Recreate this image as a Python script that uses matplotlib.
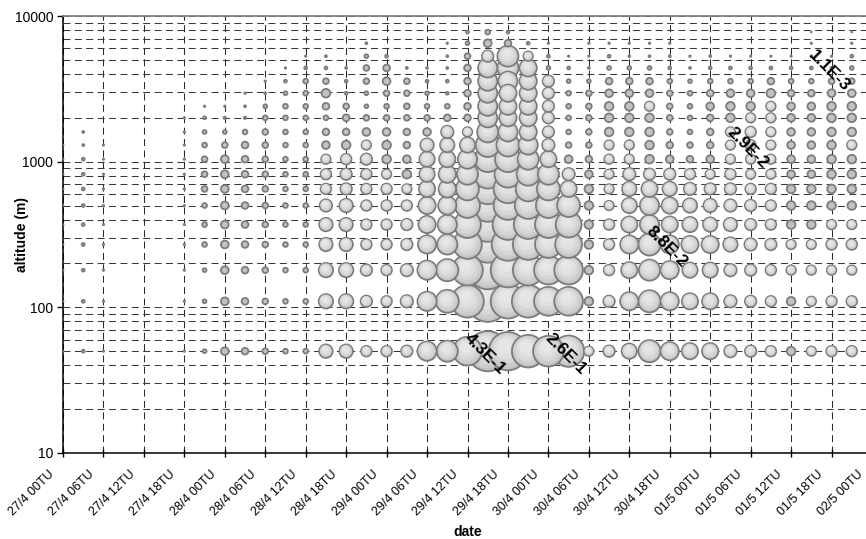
import matplotlib
matplotlib.use("Agg")
import matplotlib.pyplot as plt
from matplotlib.ticker import FixedLocator, NullFormatter
from matplotlib.transforms import ScaledTranslation, blended_transform_factory
import numpy as np

plt.rcParams['font.family'] = ['Liberation Sans', 'DejaVu Sans']
plt.rcParams['lines.scale_dashes'] = False

# ---------------- data ----------------
# altitude levels (m)
altitudes = [50, 110, 180, 270, 370, 500, 650, 820, 1040, 1300, 1600,
             2000, 2400, 2950, 3570, 4400, 5300, 6500, 7750]

# hours since 27/4 00TU for each column of bubbles
hours = [0, 3, 6, 18, 21, 24, 27, 30, 33, 36, 39, 42, 45, 48, 51, 54, 57,
         60, 63, 66, 69, 72, 75, 78, 81, 84, 87, 90, 93, 96, 99, 102, 105,
         108, 111, 114, 117]

# concentrations per column, from lowest to highest altitude level
c_2704_00 = [0.00024]*10 + [0]*9
c_2704_03 = [0.0022]*9 + [0.001, 0.001] + [0]*8
c_2704_06 = [0.0005]*10 + [0]*9
c_2704_18 = [0.0005]*12 + [0]*7
c_2704_21 = [0.0039, 0.0039, 0.0039, 0.0061, 0.0061, 0.0061, 0.0088, 0.0088, 0.0088, 0.0061, 0.0039, 0.0022, 0.00055, 0, 0, 0, 0, 0, 0]
c_2804_00 = [0.016, 0.016, 0.016, 0.016, 0.016, 0.016, 0.016, 0.016, 0.016, 0.0088, 0.0039, 0.0015, 0.00055, 0, 0, 0, 0, 0, 0]
c_2804_03 = [0.012, 0.012, 0.012, 0.012, 0.012, 0.012, 0.012, 0.012, 0.012, 0.012, 0.0061, 0.0015, 0.001, 0.00055, 0, 0, 0, 0, 0]
c_2804_06 = [0.0088, 0.0088, 0.0088, 0.0088, 0.0088, 0.0088, 0.0088, 0.0088, 0.0088, 0.0088, 0.0088, 0.0061, 0.0039, 0.001, 0.00055, 0, 0, 0, 0]
c_2804_09 = [0.0061, 0.0061, 0.0061, 0.0061, 0.0061, 0.0061, 0.0061, 0.0061, 0.0061, 0.0061, 0.0061, 0.0061, 0.0061, 0.0039, 0.0022, 0.00055, 0, 0, 0]
c_2804_12 = [0.0061, 0.0061, 0.0061, 0.0061, 0.0061, 0.0061, 0.0061, 0.0061, 0.0061, 0.0061, 0.0061, 0.0061, 0.0061, 0.0061, 0.0061, 0.0022, 0.00055, 0, 0]
c_2804_15 = [0.048, 0.055, 0.055, 0.048, 0.048, 0.041, 0.030, 0.030, 0.024, 0.016, 0.012, 0.0061, 0.012, 0.020, 0.0088, 0.0022, 0.001, 0, 0]
c_2804_18 = [0.048, 0.055, 0.055, 0.048, 0.048, 0.048, 0.035, 0.035, 0.030, 0.020, 0.012, 0.012, 0.0088, 0.0022, 0.0022, 0.001, 0, 0, 0]
c_2804_21 = [0.030, 0.035, 0.035, 0.030, 0.030, 0.030, 0.030, 0.030, 0.035, 0.024, 0.016, 0.0088, 0.0039, 0.0039, 0.0088, 0.0088, 0.0039, 0.001, 0]
c_2904_00 = [0.030, 0.030, 0.030, 0.030, 0.030, 0.030, 0.030, 0.024, 0.020, 0.020, 0.016, 0.0088, 0.0061, 0.0088, 0.016, 0.012, 0.0022, 0, 0]
c_2904_03 = [0.035, 0.041, 0.041, 0.035, 0.035, 0.030, 0.024, 0.020, 0.016, 0.012, 0.012, 0.0088, 0.0088, 0.0088, 0.0088, 0.001, 0, 0, 0]
c_2904_06 = [0.098, 0.098, 0.098, 0.088, 0.079, 0.079, 0.070, 0.062, 0.062, 0.048, 0.016, 0.0088, 0.0061, 0.0039, 0.0022, 0.001, 0, 0, 0]
c_2904_09 = [0.118, 0.140, 0.130, 0.108, 0.098, 0.088, 0.079, 0.079, 0.070, 0.055, 0.041, 0.012, 0.0061, 0.0022, 0.0022, 0.001, 0.001, 0.00055, 0]
c_2904_12 = [0.219, 0.282, 0.250, 0.219, 0.191, 0.165, 0.140, 0.118, 0.098, 0.062, 0.024, 0.012, 0.012, 0.012, 0.012, 0.012, 0.0088, 0.0039, 0.0022]
c_2904_15 = [0.43, 0.45, 0.39, 0.352, 0.316, 0.282, 0.250, 0.219, 0.178, 0.152, 0.118, 0.098, 0.098, 0.098, 0.098, 0.098, 0.035, 0.016, 0.0061]
c_2904_18 = [0.39, 0.316, 0.316, 0.282, 0.250, 0.219, 0.219, 0.191, 0.178, 0.140, 0.098, 0.079, 0.079, 0.079, 0.098, 0.118, 0.118, 0.012, 0.0022]
c_2904_21 = [0.282, 0.282, 0.250, 0.250, 0.219, 0.191, 0.165, 0.140, 0.118, 0.098, 0.079, 0.079, 0.079, 0.079, 0.079, 0.079, 0.024, 0.0022, 0]
c_3004_00 = [0.250, 0.219, 0.219, 0.191, 0.191, 0.165, 0.140, 0.118, 0.070, 0.041, 0.035, 0.035, 0.035, 0.035, 0.035, 0.0039, 0.0022, 0.00055, 0]
c_3004_03 = [0.26, 0.219, 0.219, 0.191, 0.178, 0.140, 0.070, 0.041, 0.016, 0.0088, 0.0061, 0.0061, 0.0061, 0.0061, 0.0039, 0.0022, 0.00055, 0, 0]
c_3004_06 = [0.024, 0.020, 0.020, 0.020, 0.020, 0.020, 0.020, 0.016, 0.012, 0.0088, 0.0088, 0.0088, 0.0088, 0.0088, 0.0039, 0.001, 0.00055, 0.00055, 0]
c_3004_09 = [0.035, 0.035, 0.030, 0.030, 0.030, 0.024, 0.024, 0.024, 0.024, 0.024, 0.020, 0.020, 0.020, 0.016, 0.012, 0.0039, 0.0022, 0.00055, 0]
c_3004_12 = [0.062, 0.088, 0.070, 0.088, 0.070, 0.062, 0.055, 0.041, 0.024, 0.024, 0.020, 0.020, 0.020, 0.016, 0.012, 0.0039, 0.001, 0.00055, 0]
c_3004_15 = [0.130, 0.130, 0.118, 0.130, 0.098, 0.098, 0.070, 0.035, 0.020, 0.020, 0.020, 0.020, 0.024, 0.016, 0.012, 0.0039, 0.001, 0.00055, 0]
c_3004_18 = [0.088, 0.088, 0.088, 0.088, 0.070, 0.070, 0.055, 0.035, 0.016, 0.012, 0.0088, 0.0088, 0.0088, 0.0088, 0.0061, 0.0022, 0.001, 0.00055, 0]
c_3004_21 = [0.070, 0.070, 0.062, 0.079, 0.062, 0.055, 0.041, 0.030, 0.012, 0.0088, 0.0061, 0.0061, 0.0061, 0.0061, 0.0039, 0.001, 0.00055, 0, 0]
c_0105_00 = [0.070, 0.070, 0.062, 0.079, 0.055, 0.048, 0.035, 0.024, 0.016, 0.012, 0.012, 0.012, 0.016, 0.012, 0.0061, 0.0022, 0.001, 0, 0]
c_0105_03 = [0.041, 0.041, 0.041, 0.055, 0.048, 0.041, 0.035, 0.030, 0.024, 0.024, 0.024, 0.020, 0.020, 0.016, 0.0061, 0.0022, 0.00055, 0, 0]
c_0105_06 = [0.035, 0.035, 0.035, 0.041, 0.035, 0.035, 0.030, 0.024, 0.024, 0.029, 0.030, 0.024, 0.020, 0.016, 0.0061, 0.0022, 0.00055, 0, 0]
c_0105_09 = [0.030, 0.030, 0.030, 0.035, 0.030, 0.030, 0.030, 0.024, 0.024, 0.024, 0.024, 0.024, 0.024, 0.020, 0.012, 0.0022, 0.00055, 0, 0]
c_0105_12 = [0.020, 0.020, 0.024, 0.024, 0.020, 0.020, 0.020, 0.016, 0.016, 0.016, 0.016, 0.016, 0.016, 0.012, 0.0061, 0.0022, 0.00055, 0, 0]
c_0105_15 = [0.024, 0.024, 0.024, 0.024, 0.020, 0.020, 0.020, 0.016, 0.016, 0.016, 0.016, 0.016, 0.016, 0.012, 0.0061, 0.0022, 0.001, 0.00055, 0.00024]
c_0105_18 = [0.030, 0.030, 0.024, 0.030, 0.024, 0.020, 0.020, 0.020, 0.020, 0.020, 0.020, 0.020, 0.020, 0.016, 0.0088, 0.0011, 0.00055, 0, 0]
c_0105_21 = [0.030, 0.030, 0.024, 0.030, 0.024, 0.020, 0.020, 0.020, 0.020, 0.024, 0.020, 0.020, 0.020, 0.016, 0.0088, 0.0039, 0.0022, 0.00055, 0.00024]

columns = [c_2704_00, c_2704_03, c_2704_06, c_2704_18, c_2704_21,
           c_2804_00, c_2804_03, c_2804_06, c_2804_09, c_2804_12,
           c_2804_15, c_2804_18, c_2804_21, c_2904_00, c_2904_03,
           c_2904_06, c_2904_09, c_2904_12, c_2904_15, c_2904_18,
           c_2904_21, c_3004_00, c_3004_03, c_3004_06, c_3004_09,
           c_3004_12, c_3004_15, c_3004_18, c_3004_21, c_0105_00,
           c_0105_03, c_0105_06, c_0105_09, c_0105_12, c_0105_15,
           c_0105_18, c_0105_21]

# x tick positions (hours) and labels
tick_hours = [0, 6, 12, 18, 24, 30, 36, 42, 48, 54, 60, 66, 72, 78, 84,
              90, 96, 102, 108, 114, 120]
tick_labels = ["27/4 00TU", "27/4 06TU", "27/4 12TU", "27/4 18TU",
               "28/4 00TU", "28/4 06TU", "28/4 12TU", "28/4 18TU",
               "29/4 00TU", "29/4 06TU", "29/4 12TU", "29/4 18TU",
               "30/4 00TU", "30/4 06TU", "30/4 12TU", "30/4 18TU",
               "01/5 00TU", "01/5 06TU", "01/5 12TU", "01/5 18TU",
               "02/5 00TU"]

# data labels on selected bubbles
label_texts = ["4.3E-1", "2.6E-1", "8.8E-2", "2.9E-2", "1.1E-3"]
label_hours = [63, 75, 90, 102, 114]
label_alts = [50, 50, 270, 1300, 4400]

# ---------------- figure ----------------
W, H = 866, 539
fig = plt.figure(figsize=(W / 100, H / 100), dpi=100)
left_px, right_px, top_px, bot_px = 63, 872, 16, 453
ax = fig.add_axes([left_px / W, 1 - bot_px / H,
                   (right_px - left_px) / W, (bot_px - top_px) / H])
ax.set_yscale('log')
ax.set_ylim(10, 10000)
ax.set_xlim(0, 120)

# grid and ticks
minor_y = [m * 10 ** e for e in (1, 2, 3) for m in range(2, 10)]
ax.yaxis.set_major_locator(FixedLocator([10, 100, 1000, 10000]))
ax.yaxis.set_minor_locator(FixedLocator(minor_y))
ax.yaxis.set_minor_formatter(NullFormatter())
ax.set_yticklabels(["10", "100", "1000", "10000"])
ax.set_xticks(tick_hours)
ax.set_xticklabels([])

# rotated date labels, their right end just below-left of each tick
lab_trans = blended_transform_factory(ax.transData, ax.transAxes) + \
    ScaledTranslation(-0.085, -0.215, fig.dpi_scale_trans)
for h, t in zip(tick_hours, tick_labels):
    ax.text(h, 0, t, transform=lab_trans, rotation=45, ha='right',
            va='baseline', rotation_mode='anchor', fontsize=9,
            clip_on=False)

ax.grid(True, which='both', axis='y', color='#3a3a3a', lw=0.75,
        dashes=(5, 3.2))
ax.grid(True, which='major', axis='x', color='#2a2a2a', lw=0.75,
        dashes=(5, 3.2))
ax.set_axisbelow(True)
ax.tick_params(axis='y', which='major', direction='out', length=4, width=1,
               labelsize=10, pad=3)
ax.tick_params(axis='y', which='minor', length=0)
ax.tick_params(axis='x', which='major', direction='inout', length=6, width=1)

for side in ('left', 'bottom'):
    ax.spines[side].set_color('black')
    ax.spines[side].set_linewidth(1.1)
ax.spines['top'].set_color('#808080')
ax.spines['top'].set_linewidth(1.3)
ax.spines['right'].set_visible(False)

# bubbles: drawn largest first, each with a few shading layers
K = 1950.0
bubbles = []
for h, col in zip(hours, columns):
    for a, v in zip(altitudes, col):
        if v > 0:
            bubbles.append((v, h, a))
bubbles.sort(key=lambda b: -b[0])

layers = [(1.00, '#c2c2c2', '#7c7c7c', 1.3),
          (0.80, '#cdcdcd', None, 0),
          (0.58, '#d7d7d7', None, 0),
          (0.35, '#e0e0e0', None, 0),
          (0.15, '#e6e6e6', None, 0)]
to_disp = ax.transData
to_data = ax.transData.inverted()
xs, ys, ss, fcs, ecs, lws = [], [], [], [], [], []
for v, h, a in bubbles:
    s = K * v
    r_px = np.sqrt(s) * 100 / 72 / 2
    cx, cy = to_disp.transform((h, a))
    for frac, fc, ec, lw in layers:
        if lw == 0 and s < 40:
            continue
        off = (1 - np.sqrt(frac)) * r_px * 0.45
        px, py = to_data.transform((cx - off * 0.5, cy + off))
        xs.append(px); ys.append(py); ss.append(s * frac)
        fcs.append(fc); ecs.append(ec if ec is not None else fc)
        lws.append(lw)
ax.scatter(xs, ys, s=ss, facecolors=fcs, edgecolors=ecs, linewidths=lws,
           zorder=3, clip_on=True)

for t, h, a in zip(label_texts, label_hours, label_alts):
    ax.annotate(t, (h, a), xytext=(-2, -2), textcoords='offset points',
                rotation=-45, ha='center', va='center',
                rotation_mode='anchor', fontsize=12.5, fontweight='bold',
                color='black', zorder=5)

fig.text(22 / W, 1 - 235 / H, 'altitude (m)', rotation=90, ha='center',
         va='center', fontsize=10, fontweight='bold')
fig.text(468 / W, 1 - 532 / H, 'date', ha='center', va='center',
         fontsize=10, fontweight='bold')

fig.savefig('out.png', dpi=100)
